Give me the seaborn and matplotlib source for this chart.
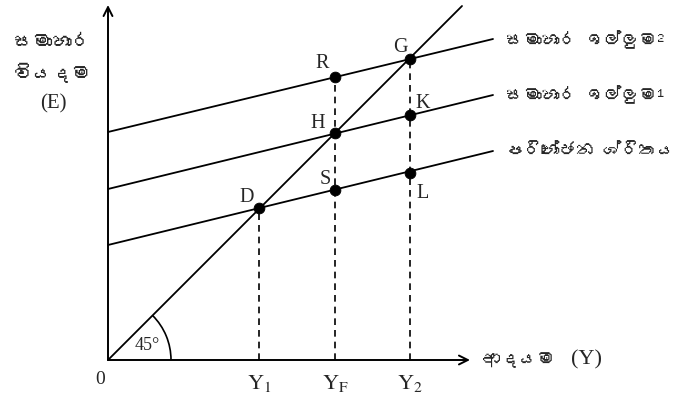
import matplotlib
matplotlib.use("Agg")
import matplotlib.pyplot as plt
import seaborn as sns
import pandas as pd
import numpy as np
from matplotlib import font_manager as fm
from matplotlib.patches import Arc

sns.set_style("white")
plt.rcParams["mathtext.fontset"] = "stix"

# ---- data (in diagram units, origin at 0) ----
line_x = [0, 385]
consumption = [115, 209]
agg_demand1 = [171, 265]
agg_demand2 = [228, 321]
diag_x = [0, 354]
diag_y = [0, 354]

point_names = ["D", "H", "G", "R", "K", "S", "L"]
point_x = [151, 227, 302, 227, 302, 227, 302]
point_y = [152, 227, 301, 283, 245, 170, 187]

income_levels = [151, 227, 302]
income_labels = [r"$\mathrm{Y}_{1}$", r"$\mathrm{Y}_{\mathrm{F}}$", r"$\mathrm{Y}_{2}$"]
drop_tops = [152, 283, 301]

curve_labels = ["සමාහාර ඉල්ලුම²", "සමාහාර ඉල්ලුම¹", "පරිභෝජන ශ්රිතය"]
y_label = ["සමාහාර", "වියදම", "(E)"]
x_label = ["ආදයම", "(Y)"]

# ---- find a font with Sinhala glyphs, if any ----
sinhala_font = None
try:
    from fontTools.ttLib import TTFont
    for f in fm.fontManager.ttflist:
        try:
            tt = TTFont(f.fname, fontNumber=0, lazy=True)
            cmap = tt.getBestCmap()
            if cmap and 0x0DC3 in cmap and 0x0DB8 in cmap:
                sinhala_font = f.name
                break
        except Exception:
            pass
except Exception:
    pass
sin_family = [sinhala_font, "DejaVu Sans"] if sinhala_font else ["DejaVu Sans"]
serif = ["Liberation Serif", "DejaVu Serif"]

fig = plt.figure(figsize=(6.85, 4.05), dpi=100)
ax = fig.add_axes([0, 0, 1, 1])
ax.set_xlim(-108, 685 - 108)
ax.set_ylim(-(405 - 360), 360)
ax.axis("off")

lw = 1.3
df_lines = pd.DataFrame({
    "x": line_x * 3 + diag_x,
    "y": consumption + agg_demand1 + agg_demand2 + diag_y,
    "s": ["c"] * 2 + ["a1"] * 2 + ["a2"] * 2 + ["d"] * 2,
})
sns.lineplot(data=df_lines, x="x", y="y", units="s", estimator=None,
             color="black", lw=lw, ax=ax, legend=False)

# dashed drop lines
for xv, top in zip(income_levels, drop_tops):
    ax.plot([xv, xv], [0, top], ls=(0, (4, 3)), color="black", lw=1.2)

# axes arrows
ax.annotate("", xy=(0, 355), xytext=(0, 0),
            arrowprops=dict(arrowstyle="->", lw=1.4, color="black",
                            mutation_scale=16, shrinkA=0, shrinkB=0))
ax.annotate("", xy=(362, 0), xytext=(0, 0),
            arrowprops=dict(arrowstyle="->", lw=1.4, color="black",
                            mutation_scale=16, shrinkA=0, shrinkB=0))

# points
df_pts = pd.DataFrame({"x": point_x, "y": point_y, "n": point_names})
sns.scatterplot(data=df_pts, x="x", y="y", color="black", s=60,
                edgecolor="black", ax=ax, zorder=5, legend=False)

ax.set_xlabel("")
ax.set_ylabel("")

# point labels
label_pos = {"D": (139, 162), "H": (210, 237), "G": (292, 313), "R": (214, 296),
             "K": (315, 256), "S": (217, 180), "L": (315, 167)}
for n in point_names:
    lx, ly = label_pos[n]
    ax.text(lx, ly, n, fontsize=14.5, family=serif, ha="center", va="center")

# income tick labels
for xv, lab in zip(income_levels, income_labels):
    ax.text(xv, -24, lab, fontsize=16, ha="center", va="center")
ax.text(-8, -20, "0", fontsize=14, family=serif, ha="center", va="center")

# 45 degree arc
ax.add_patch(Arc((0, 0), 126, 126, theta1=0, theta2=45, color="black", lw=1.2))
ax.text(39, 14, "45°", fontsize=13, family=serif, ha="center", va="center")

# curve labels
for lab, yv in zip(curve_labels, [320, 265, 210]):
    ax.text(398, yv, lab, fontsize=12.8, family=sin_family, ha="left", va="center")

# y axis label
for lab, yv in zip(y_label, [318, 287, 256]):
    ax.text(-55, yv, lab, fontsize=15 if lab == "(E)" else 14,
            family=serif if lab == "(E)" else sin_family,
            ha="center", va="center")

# x axis label
ax.text(375, 0, x_label[0], fontsize=13, family=sin_family, ha="left", va="center")
ax.text(478, 0, x_label[1], fontsize=16, family=serif, ha="center", va="center")

fig.savefig("out.png", dpi=100)
